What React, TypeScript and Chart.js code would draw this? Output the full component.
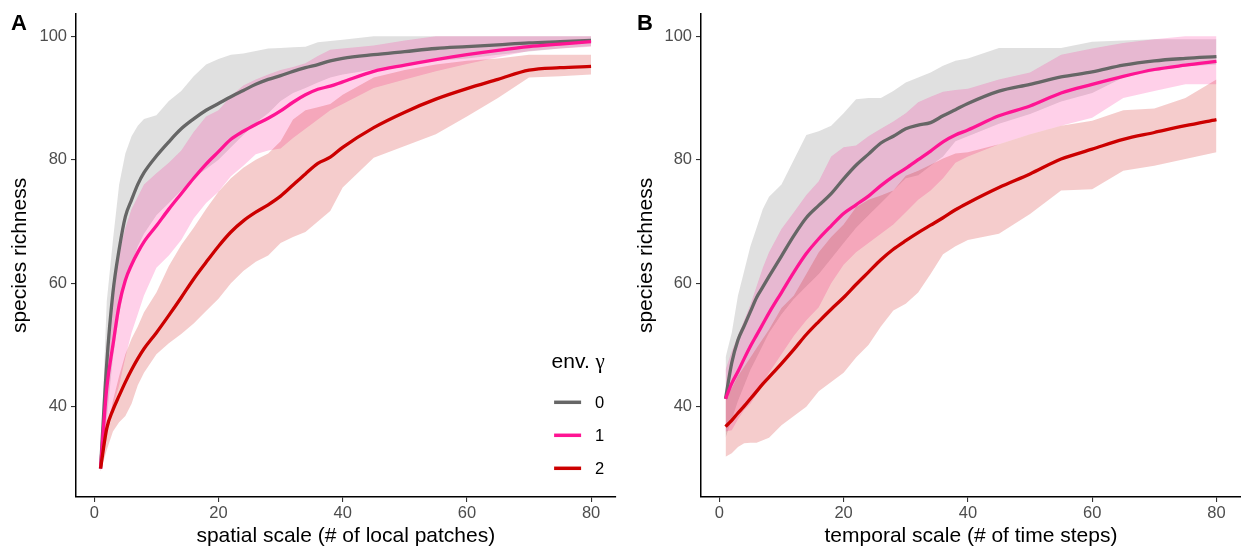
import React, { useEffect, useRef } from 'react';
import { Chart, registerables } from 'chart.js';

Chart.register(...registerables);

const FAM = '"Liberation Sans", Arial, Helvetica, sans-serif';
const SERIF = '"Liberation Serif", "DejaVu Serif", serif';

// ---- shared ----
const xValues = [1, 2, 3, 4, 5, 6, 7, 8, 10, 12, 14, 16, 18, 20, 22, 24, 26, 28, 30, 32, 34, 36, 38, 40, 45, 50, 55, 60, 65, 70, 75, 80];
const xTicks = [0, 20, 40, 60, 80];
const yTicks = [40, 60, 80, 100];
const legendTitle = 'env. ';
const legendSymbol = 'γ';
const legendLabels = ['0', '1', '2'];
const seriesColors = ['#666666', '#FF1493', '#CC0000'];
const ribbonColors = ['rgba(102,102,102,0.2)', 'rgba(255,20,147,0.2)', 'rgba(204,0,0,0.2)'];

// ---- panel A: spatial scale ----
const spatialGrayMean = [30, 47, 58.5, 65.5, 70.8, 73.5, 76, 77.9, 80.6, 82.9, 85.0, 86.6, 88.0, 89.1, 90.2, 91.2, 92.2, 93.0, 93.6, 94.3, 94.9, 95.4, 96.0, 96.4, 97.0, 97.5, 98.0, 98.3, 98.6, 98.9, 99.1, 99.3];
const spatialGrayHi = [31, 57, 67, 76, 81, 83.8, 85.5, 86.6, 87.2, 89.5, 91.1, 93.5, 95.4, 96.3, 97, 97.2, 97.6, 98, 98.1, 98.2, 98.3, 99, 99.2, 99.4, 100, 100, 100, 100, 100, 100, 100, 100];
const spatialGrayLo = [29.5, 38, 48, 55, 60, 63, 66, 68, 71, 73, 75, 77, 78.5, 80, 82, 84, 86, 87.5, 89.5, 90.8, 91.6, 92.5, 93.3, 93.8, 94.6, 95.3, 96, 96.4, 97, 97.5, 98, 98.4];
const spatialPinkMean = [30, 43, 50, 56.5, 60.5, 63, 65, 66.7, 69.3, 72, 74.5, 77, 79.3, 81.3, 83.3, 84.6, 85.7, 86.7, 87.9, 89.3, 90.5, 91.4, 91.9, 92.6, 94.3, 95.3, 96.2, 97, 97.7, 98.3, 98.7, 99.1];
const spatialPinkHi = [30.5, 50, 60, 65, 69, 72, 74, 76, 77.8, 79.5, 81.5, 84.5, 87, 88, 90.3, 92, 93, 93.8, 94.5, 95, 95.6, 96.8, 97.8, 98, 98.5, 99.3, 100, 100, 100, 100, 100, 100];
const spatialPinkLo = [29.5, 35, 40, 43.5, 48, 52, 55, 58, 62.5, 64.5, 67, 70.5, 73, 74.8, 77.3, 79, 80.9, 81.5, 81.8, 83.5, 85, 86.5, 88, 89, 91.6, 93, 94.3, 95.5, 96.6, 97.6, 98, 98.3];
const spatialRedMean = [30, 36.5, 39.5, 41.8, 44, 46, 47.8, 49.4, 52, 54.8, 57.7, 60.7, 63.4, 66, 68.3, 70.1, 71.5, 72.7, 74.1, 75.9, 77.7, 79.4, 80.4, 82, 85.2, 87.7, 89.8, 91.5, 93, 94.5, 94.9, 95.1];
const spatialRedHi = [30.5, 36, 41, 45, 48.5, 51, 53, 55.3, 58.5, 62.8, 66.2, 69, 72, 74.8, 77, 78.7, 80, 81, 83, 86.5, 88, 88.5, 89, 90.5, 93.3, 94.5, 95.4, 96, 96.4, 97, 97, 97];
const spatialRedLo = [29.5, 33, 36, 37.5, 38.5, 40.5, 43.5, 45.5, 48.5, 50.3, 51.8, 53.5, 55.5, 57.5, 60, 62, 63.5, 64.5, 66.5, 67.5, 68.3, 70, 71.7, 75.5, 80.3, 82.2, 84.1, 87, 90, 93.3, 93.5, 93.8];

// ---- panel B: temporal scale ----
const temporalGrayMean = [41.3, 47.1, 50.8, 53.1, 55.4, 57.7, 59.4, 61.1, 64.4, 67.7, 70.6, 72.6, 74.5, 76.9, 79.1, 80.9, 82.7, 83.8, 85, 85.6, 86, 87.1, 88.1, 89.1, 91.1, 92.2, 93.4, 94.2, 95.3, 96, 96.4, 96.7];
const temporalGrayHi = [48, 52, 58, 62, 66, 69, 72, 74, 76, 80, 84, 84.6, 85.5, 87.5, 89.8, 90, 90, 91.1, 92.5, 93.3, 94.1, 95.2, 96, 96.4, 98.1, 98.1, 98.1, 99.1, 99.3, 99.5, 99.5, 99.5];
const temporalGrayLo = [35, 38, 41, 43.5, 46, 48, 50, 52, 55, 57.5, 59.5, 61.5, 64, 66.5, 69, 71, 73, 75, 77, 77.5, 79, 80.5, 83, 83.8, 85.8, 87.4, 89.4, 90.8, 93.3, 94.3, 95.1, 95.4];
const temporalPinkMean = [41.3, 43.8, 45.7, 47.8, 49.8, 51.6, 53.4, 55.2, 58.5, 61.8, 64.8, 67.2, 69.3, 71.3, 72.7, 74.1, 75.8, 77.3, 78.6, 80, 81.4, 82.9, 84, 84.8, 87.1, 88.7, 90.8, 92.2, 93.5, 94.6, 95.3, 95.9];
const temporalPinkHi = [46, 49, 51.5, 54, 56.5, 59.5, 62.5, 65, 68.8, 71.5, 74.3, 76.5, 80.5, 82, 82.3, 83.8, 85, 86.2, 87.5, 89.3, 90.2, 91, 91.3, 91.5, 93, 94.1, 97, 98, 98.9, 99.5, 100, 100];
const temporalPinkLo = [36, 36.2, 38, 39.5, 40.5, 42, 43.8, 45.5, 48.5, 51.5, 54, 56.1, 60, 63, 65, 66.5, 68, 69.5, 71.5, 73.5, 75, 77, 79.5, 80.5, 82.5, 84.1, 85.5, 86.8, 90, 91.1, 92.2, 92.2];
const temporalRedMean = [36.8, 37.8, 39, 40.1, 41.3, 42.5, 43.7, 44.8, 47, 49.3, 51.7, 53.8, 55.8, 57.7, 59.8, 61.8, 63.8, 65.5, 66.9, 68.2, 69.4, 70.6, 71.9, 73, 75.5, 77.7, 80.1, 81.7, 83.3, 84.4, 85.5, 86.5];
const temporalRedHi = [41.5, 43, 45, 46.5, 48, 49.5, 51, 52.5, 56, 58, 61.5, 65, 67.5, 69.5, 72.3, 73.5, 74.2, 75, 77.4, 78.2, 79.2, 80.2, 81, 81.2, 82.5, 84.1, 85.5, 86.3, 88, 88.3, 90, 93];
const temporalRedLo = [31.9, 32.5, 33.5, 34.1, 34.2, 34.2, 34.6, 35, 37, 38.5, 40, 42.5, 44, 45.5, 48, 50, 53, 55.6, 56.7, 58.5, 61.5, 64.7, 66, 67, 68, 71.2, 75, 75.2, 78.2, 79, 80.1, 81.2];

const toPts = (ys: number[]) => ys.map((y, i) => ({ x: xValues[i], y }));

type PanelSpec = {
  letter: string;
  xTitle: string;
  means: number[][];
  his: number[][];
  los: number[][];
  legend: boolean;
  width: number;
  left: number;
  yAxisWidth: number;
  padRight: number;
  yTitlePad: number;
  letterX: number;
};

const panels: PanelSpec[] = [
  {
    letter: 'A',
    xTitle: 'spatial scale (# of local patches)',
    means: [spatialGrayMean, spatialPinkMean, spatialRedMean],
    his: [spatialGrayHi, spatialPinkHi, spatialRedHi],
    los: [spatialGrayLo, spatialPinkLo, spatialRedLo],
    legend: true,
    width: 620,
    left: 0,
    yAxisWidth: 76,
    padRight: 4.4,
    yTitlePad: 7.4,
    letterX: 11,
  },
  {
    letter: 'B',
    xTitle: 'temporal scale (# of time steps)',
    means: [temporalGrayMean, temporalPinkMean, temporalRedMean],
    his: [temporalGrayHi, temporalPinkHi, temporalRedHi],
    los: [temporalGrayLo, temporalPinkLo, temporalRedLo],
    legend: false,
    width: 621,
    left: 620,
    yAxisWidth: 81,
    padRight: 0,
    yTitlePad: 13.7,
    letterX: 17,
  },
];

const extrasPlugin = {
  id: 'panelExtras',
  afterDraw(chart: any, _args: any, opts: any) {
    const ctx = chart.ctx as CanvasRenderingContext2D;
    const ca = chart.chartArea;
    ctx.save();
    ctx.fillStyle = '#000';
    ctx.textAlign = 'left';
    ctx.textBaseline = 'alphabetic';
    ctx.font = `bold 22px ${FAM}`;
    ctx.fillText(opts.letter, opts.letterX, 30);
    if (opts.legend) {
      const lx = ca.right - 61.5;
      ctx.font = `21px ${FAM}`;
      ctx.fillText(legendTitle, lx - 2.5, 368.3);
      const w = ctx.measureText(legendTitle).width;
      ctx.font = `21px ${SERIF}`;
      ctx.fillText(legendSymbol, lx - 2.5 + w, 368.3);
      legendLabels.forEach((lab, i) => {
        const y = 402.3 + i * 33;
        ctx.strokeStyle = seriesColors[i];
        ctx.lineWidth = 3.5;
        ctx.beginPath();
        ctx.moveTo(lx, y);
        ctx.lineTo(lx + 27, y);
        ctx.stroke();
        ctx.font = `16.5px ${FAM}`;
        ctx.fillStyle = '#000';
        ctx.fillText(lab, lx + 41, y + 6);
      });
    }
    ctx.restore();
  },
};

function buildConfig(p: PanelSpec): any {
  const datasets: any[] = [];
  // lines: red first (drawn last => on top), gray last
  [2, 1, 0].forEach((k) => {
    datasets.push({
      data: toPts(p.means[k]),
      borderColor: seriesColors[k],
      borderWidth: 3.3,
      pointRadius: 0,
      fill: false,
      cubicInterpolationMode: 'monotone',
    });
  });
  // ribbons: red, pink, gray (filler draws in reverse => gray bottom)
  [2, 1, 0].forEach((k) => {
    datasets.push({
      data: toPts(p.his[k]),
      borderColor: 'rgba(0,0,0,0)',
      borderWidth: 0,
      pointRadius: 0,
      backgroundColor: ribbonColors[k],
      fill: '+1',
      tension: 0,
    });
    datasets.push({
      data: toPts(p.los[k]),
      borderColor: 'rgba(0,0,0,0)',
      borderWidth: 0,
      pointRadius: 0,
      fill: false,
      tension: 0,
    });
  });

  const tickFont = { family: FAM, size: 16.5 };
  return {
    type: 'line',
    data: { datasets },
    options: {
      responsive: false,
      animation: false,
      events: [],
      layout: { padding: { top: 12.7, right: p.padRight, left: 0, bottom: 0 } },
      plugins: {
        legend: { display: false },
        tooltip: { enabled: false },
        filler: { propagate: false, drawTime: 'beforeDatasetsDraw' },
        panelExtras: { letter: p.letter, letterX: p.letterX, legend: p.legend },
      },
      scales: {
        x: {
          type: 'linear',
          min: -2.95,
          max: 83.95,
          afterBuildTicks: (s: any) => {
            s.ticks = xTicks.map((v) => ({ value: v }));
          },
          afterFit: (s: any) => {
            s.height = 53;
          },
          ticks: { font: tickFont, color: '#4D4D4D', padding: 2, maxRotation: 0, autoSkip: false },
          grid: { display: true, drawOnChartArea: false, drawTicks: true, tickLength: 5, color: '#333333', lineWidth: 1.1 },
          border: { display: true, color: '#000000', width: 1.5 },
          title: {
            display: true,
            text: p.xTitle,
            color: '#000000',
            font: { family: FAM, size: 21 },
            padding: { top: 0, bottom: 1 },
          },
        },
        y: {
          type: 'linear',
          min: 25.4,
          max: 103.6,
          afterBuildTicks: (s: any) => {
            s.ticks = yTicks.map((v) => ({ value: v }));
          },
          afterFit: (s: any) => {
            s.width = p.yAxisWidth;
          },
          ticks: { font: tickFont, color: '#4D4D4D', padding: 4, autoSkip: false },
          grid: { display: true, drawOnChartArea: false, drawTicks: true, tickLength: 5, color: '#333333', lineWidth: 1.1 },
          border: { display: true, color: '#000000', width: 1.5 },
          title: {
            display: true,
            text: 'species richness',
            color: '#000000',
            font: { family: FAM, size: 21 },
            padding: { top: p.yTitlePad, bottom: 0 },
          },
        },
      },
    },
    plugins: [extrasPlugin],
  };
}

function Panel({ spec }: { spec: PanelSpec }) {
  const ref = useRef<HTMLCanvasElement | null>(null);
  useEffect(() => {
    if (!ref.current) return;
    const chart = new Chart(ref.current, buildConfig(spec));
    return () => chart.destroy();
  }, [spec]);
  return (
    <canvas
      ref={ref}
      width={spec.width}
      height={550}
      style={{ position: 'absolute', left: spec.left, top: 0, width: spec.width, height: 550 }}
    />
  );
}

export default function App() {
  return (
    <div style={{ position: 'fixed', left: 0, top: 0, width: 1241, height: 550, background: '#ffffff', overflow: 'hidden' }}>
      {panels.map((p) => (
        <Panel key={p.letter} spec={p} />
      ))}
    </div>
  );
}
